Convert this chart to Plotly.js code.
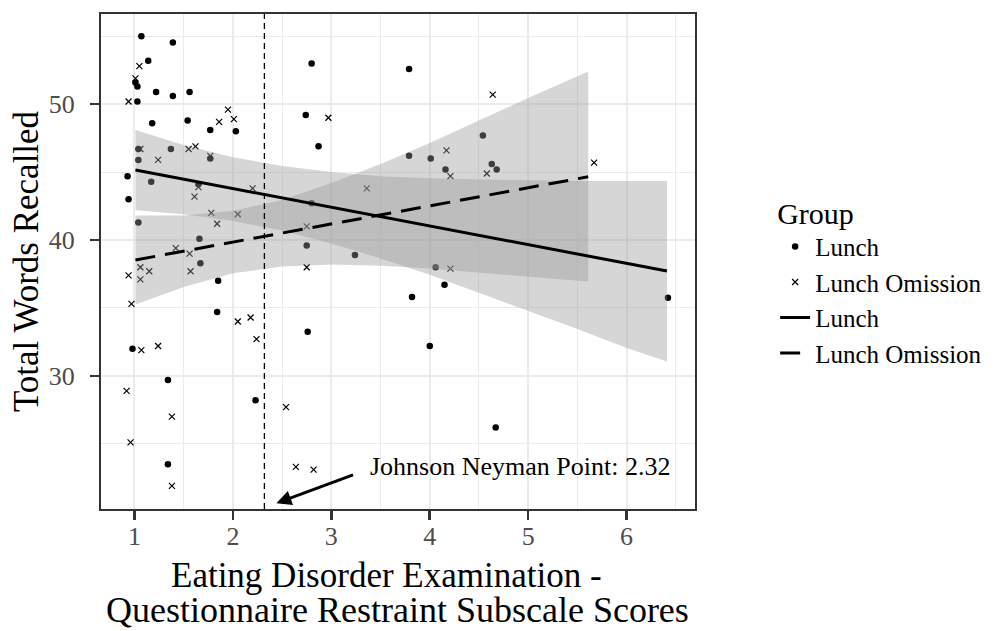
<!DOCTYPE html>
<html>
<head>
<meta charset="utf-8">
<script src="https://cdn.plot.ly/plotly-3.0.1.min.js"></script>
<style>html,body{margin:0;padding:0;background:#fff;}#chart{width:998px;height:631px;}</style>
</head>
<body>
<div id="chart"></div>
<script>
// Lunch group (filled dots)
const lunchX = [1.07,1.39,1.14,1.01,1.03,1.22,1.39,1.56,1.03,1.18,1.54,1.77,2.03,1.04,1.37,1.04,1.77,0.93,1.17,0.94,1.65,1.04,1.66,1.67,1.85,1.84,0.98,1.34,2.23,1.34,2.80,3.79,2.74,2.87,4.54,3.79,4.01,4.16,4.63,4.68,2.80,2.75,3.24,4.06,4.15,3.82,2.76,4.00,4.67,6.42];
const lunchY = [55.0,54.55,53.2,51.6,51.3,50.9,50.6,50.9,50.2,48.6,48.8,48.1,48.0,46.7,46.7,45.9,46.0,44.7,44.3,43.0,44.1,41.3,40.1,38.3,37.0,34.7,32.0,29.7,28.2,23.5,53.0,52.6,49.2,46.9,47.7,46.2,46.0,45.2,45.6,45.2,42.7,39.6,38.9,38.0,36.7,35.8,33.25,32.2,26.2,35.75];
// Lunch Omission group (crosses)
const omitX = [1.05,1.01,0.94,1.95,1.86,2.01,1.06,1.55,1.62,1.24,1.77,1.65,1.61,2.20,1.78,1.84,2.05,1.42,1.56,1.06,1.15,0.94,1.06,1.57,0.97,2.05,2.18,2.24,1.07,1.24,0.92,2.54,1.38,0.96,2.64,2.82,1.38,4.64,2.97,4.17,4.21,4.58,3.36,2.75,2.75,4.21,5.67];
const omitY = [52.8,51.9,50.2,49.6,48.7,48.9,46.7,46.7,46.9,45.9,46.2,43.9,43.2,43.8,42.0,41.2,41.9,39.4,39.0,38.0,37.7,37.4,37.1,37.7,35.3,34.0,34.3,32.7,31.9,32.2,28.9,27.7,27.0,25.1,23.3,23.1,21.9,50.7,49.0,46.6,44.7,44.9,43.8,41.0,38.0,37.9,45.7];
// Fitted lines (endpoints)
const lunchFitX = [1.01, 6.41];
const lunchFitY = [45.15, 37.72];
const omitFitX = [1.01, 5.61];
const omitFitY = [38.53, 44.66];
// Confidence bands
const lunchBandX = [1.01,1.5,2,2.5,3,3.5,4,4.5,5,5.5,6,6.41];
const lunchBandHi = [48.1,47.0,46.1,45.45,45.0,44.7,44.55,44.45,44.4,44.35,44.35,44.35];
const lunchBandLo = [42.2,41.9,41.4,40.7,39.75,38.65,37.45,36.15,34.8,33.45,32.05,31.05];
const omitBandX = [1.01,1.5,2,2.5,3,3.5,4,4.5,5,5.61];
const omitBandHi = [41.8,41.8,42.15,42.95,44.2,45.6,47.15,48.8,50.45,52.4];
const omitBandLo = [35.25,36.55,37.55,38.05,38.2,38.1,37.9,37.6,37.3,36.95];
// Johnson-Neyman point
const jnPoint = 2.32;
const jnLabel = 'Johnson Neyman Point: 2.32';
const xTitleLines = ['Eating Disorder Examination -', 'Questionnaire Restraint Subscale Scores'];
const yTitle = 'Total Words Recalled';
const groupNames = ['Lunch', 'Lunch Omission'];

const FONT = 'Liberation Serif, Times New Roman, serif';
function band(xs, hi, lo) {
  return {
    x: xs.concat(xs.slice().reverse()),
    y: hi.concat(lo.slice().reverse()),
    type: 'scatter', mode: 'lines', fill: 'toself',
    fillcolor: 'rgba(153,153,153,0.4)', line: {width: 0},
    hoverinfo: 'skip', showlegend: false
  };
}
const traces = [
  {x: lunchX, y: lunchY, type: 'scatter', mode: 'markers', name: groupNames[0],
   marker: {symbol: 'circle', size: 6.5, color: '#000'}},
  {x: omitX, y: omitY, type: 'scatter', mode: 'markers', name: groupNames[1],
   marker: {symbol: 'x-thin', size: 6, color: '#000', line: {width: 1.2, color: '#000'}}},
  band(lunchBandX, lunchBandHi, lunchBandLo),
  band(omitBandX, omitBandHi, omitBandLo),
  {x: lunchFitX, y: lunchFitY, type: 'scatter', mode: 'lines', name: groupNames[0],
   line: {color: '#000', width: 3}},
  {x: omitFitX, y: omitFitY, type: 'scatter', mode: 'lines', name: groupNames[1],
   line: {color: '#000', width: 3, dash: '20px,10px'}}
];
const axisCommon = {
  showline: true, mirror: true, linecolor: '#333', linewidth: 2,
  ticks: 'outside', ticklen: 9, tickwidth: 2.5, tickcolor: '#333',
  showgrid: true, gridcolor: '#ebebeb', gridwidth: 2, zeroline: false,
  tickfont: {family: FONT, size: 26, color: '#4d4d4d'}
};
const layout = {
  width: 998, height: 631,
  margin: {l: 101, r: 302, t: 14, b: 122},
  paper_bgcolor: '#fff', plot_bgcolor: '#fff',
  font: {family: FONT, color: '#000'},
  xaxis: Object.assign({}, axisCommon, {
    range: [0.66, 6.695], dtick: 1, tick0: 0, ticklabelstandoff: -6,
    minor: {dtick: 0.5, showgrid: true, gridcolor: '#ebebeb', gridwidth: 1}
  }),
  yaxis: Object.assign({}, axisCommon, {
    range: [20.2, 56.64], dtick: 10, tick0: 0, ticklabelstandoff: 10,
    minor: {dtick: 5, showgrid: true, gridcolor: '#ebebeb', gridwidth: 1},
    title: {text: yTitle, font: {family: FONT, size: 35, color: '#000'}, standoff: 0}
  }),
  legend: {
    x: 1.133, xanchor: 'left', y: 0.655, yanchor: 'top',
    font: {family: FONT, size: 25, color: '#000'},
    title: {text: 'Group', font: {family: FONT, size: 30, color: '#000'}},
    bgcolor: 'rgba(0,0,0,0)'
  },
  shapes: [
    {type: 'line', xref: 'x', yref: 'paper', x0: jnPoint, x1: jnPoint, y0: 0, y1: 1,
     line: {color: '#000', width: 1.3, dash: '6px,4px'}}
  ],
  annotations: [
    {xref: 'x', yref: 'y', x: 2.442, y: 20.62, ax: 3.236, ay: 22.75, axref: 'x', ayref: 'y',
     text: '', showarrow: true, arrowhead: 2, arrowsize: 1, arrowwidth: 3, arrowcolor: '#000', standoff: 0},
    {xref: 'x', yref: 'y', x: 3.368, y: 23.36, xanchor: 'left', yanchor: 'middle',
     text: jnLabel, showarrow: false, font: {family: FONT, size: 26, color: '#000'}},
    {xref: 'paper', yref: 'paper', x: 0.4807, y: 0, yshift: -66, xanchor: 'center', yanchor: 'middle', borderpad: 0,
     text: xTitleLines[0], showarrow: false, font: {family: FONT, size: 35, color: '#000'}},
    {xref: 'paper', yref: 'paper', x: 0.4992, y: 0, yshift: -101, xanchor: 'center', yanchor: 'middle', borderpad: 0,
     text: xTitleLines[1], showarrow: false, font: {family: FONT, size: 36, color: '#000'}}
  ]
};
Plotly.newPlot('chart', traces, layout, {displayModeBar: false, staticPlot: true});
</script>
</body>
</html>
